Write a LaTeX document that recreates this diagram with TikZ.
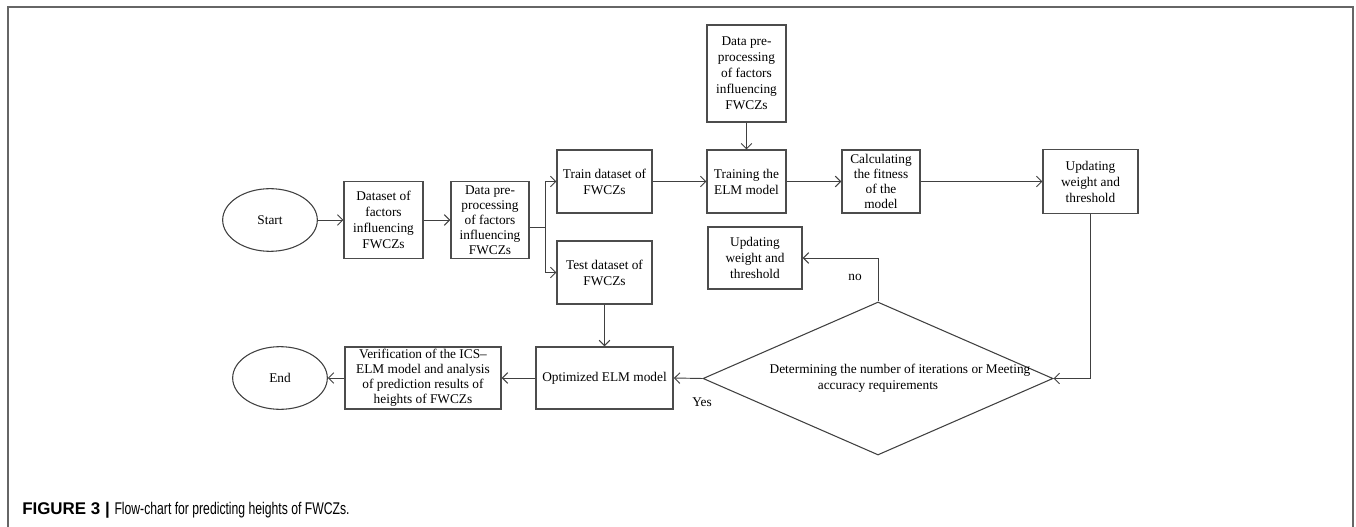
\documentclass[tikz,border=0pt]{standalone}
\usepackage{fontspec}
\setmainfont{Liberation Serif}
\newfontfamily\capfont{Liberation Sans}
\usetikzlibrary{shapes.geometric,arrows.meta}
\tikzset{
  box/.style={draw=black!70,line width=1.1pt,align=center,inner sep=1pt,font=\fontsize{10}{12}\selectfont},
  tight/.style={font=\fontsize{10}{11.3}\selectfont},
  term/.style={ellipse,draw=black!75,line width=0.8pt,minimum width=71pt,minimum height=47pt,inner sep=0pt,font=\fontsize{10}{12}\selectfont},
  flow/.style={->,draw=black!75,line width=0.7pt},
  tag/.style={font=\fontsize{10}{12}\selectfont,inner sep=1pt},
}
\begin{document}
\begin{tikzpicture}[x=0.75pt,y=-0.75pt,>={Straight Barb[length=4pt,width=8pt]}]
  \useasboundingbox (0,0) rectangle (1356,527);
  \draw[black!60,line width=1.2pt] (8,527) -- (8,7) -- (1353,7) -- (1353,527);
  %
  \node[term] (start) at (270,220) {Start};
  \node[box,minimum width=59pt,minimum height=58pt] (data) at (383.5,220) {Dataset of\\factors\\influencing\\FWCZs};
  \node[box,tight,minimum width=58.5pt,minimum height=58pt] (prep) at (490,220) {Data pre-\\processing\\of factors\\influencing\\FWCZs};
  \node[box,minimum width=71pt,minimum height=47pt] (train) at (604.5,181.5) {Train dataset of\\FWCZs};
  \node[box,minimum width=71pt,minimum height=47pt] (test) at (604.5,272.5) {Test dataset of\\FWCZs};
  \node[box,minimum width=59pt,minimum height=73pt] (prep2) at (746.5,73.5) {Data pre-\\processing\\of factors\\influencing\\FWCZs};
  \node[box,minimum width=59pt,minimum height=47pt] (elm) at (746.5,181.5) {Training the\\ELM model};
  \node[box,tight,minimum width=58.5pt,minimum height=47pt] (fit) at (881,181.5) {Calculating\\the fitness\\of the\\model};
  \node[box,minimum width=71pt,minimum height=48pt] (upd) at (1090.5,181.5) {Updating\\weight and\\threshold};
  \node[box,minimum width=70.5pt,minimum height=46.5pt] (upd2) at (755,258) {Updating\\weight and\\threshold};
  \node[diamond,draw=black!75,line width=0.8pt,minimum width=262.5pt,minimum height=114.75pt,inner sep=0pt] (check) at (878,378.5) {};
  \node[align=center,font=\fontsize{10}{12}\selectfont] (checktext) at (900,378) {Determining the number of iterations or Meeting\\accuracy requirements\hspace*{33pt}};
  \node[box,minimum width=103pt,minimum height=46.5pt] (opt) at (604.5,378) {Optimized ELM model};
  \node[box,tight,minimum width=117pt,minimum height=46.5pt] (verif) at (423,378) {Verification of the ICS--\\ELM model and analysis\\of prediction results of\\heights of FWCZs};
  \node[term] (end) at (280,378) {End};
  \node[tag] (no) at (855,277) {no};
  \node[tag] (yes) at (702,402) {Yes};
  %
  \coordinate (split) at (545,227);
  \draw[flow] (start) -- (data);
  \draw[flow] (data) -- (prep);
  \draw[black!75,line width=0.7pt] (prep.east |- split) -- (split);
  \draw[flow] (split) |- (train.west);
  \draw[flow] (split) |- (test.west);
  \draw[flow] (prep2) -- (elm);
  \draw[flow] (train) -- (elm);
  \draw[flow] (elm) -- (fit);
  \draw[flow] (fit) -- (upd);
  \draw[flow] (upd.south) |- (check.east);
  \draw[flow] (check.north) |- (upd2.east);
  \draw[flow] (check.west) -- (opt.east);
  \draw[flow] (test) -- (opt);
  \draw[flow] (opt) -- (verif);
  \draw[flow] (verif) -- (end);
  %
  \node[anchor=base west,inner sep=0pt,font=\capfont\fontsize{12.7}{15}\selectfont] (caption) at (22,514) {\textbf{FIGURE 3 |} \scalebox{0.72}[1]{Flow-chart for predicting heights of FWCZs.}};
\end{tikzpicture}
\end{document}
